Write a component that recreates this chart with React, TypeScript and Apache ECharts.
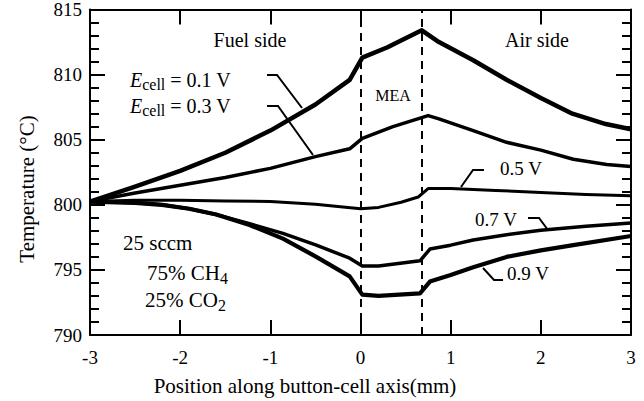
import React, { useEffect, useRef } from "react";
import * as echarts from "echarts";

// Position along axis (mm) and temperature (°C) for each cell voltage
const pos01 = [-3, -2.5, -2, -1.5, -1, -0.5, -0.12, 0.02, 0.3, 0.5, 0.68, 0.87, 1.25, 1.62, 2.0, 2.35, 2.72, 3];
const temp01 = [800.25, 801.4, 802.6, 804.0, 805.7, 807.7, 809.6, 811.3, 812.1, 812.8, 813.4, 812.5, 811.1, 809.6, 808.2, 807.0, 806.2, 805.8];

const pos03 = [-3, -2.5, -2, -1.5, -1, -0.5, -0.12, 0.02, 0.36, 0.75, 0.87, 1.25, 1.62, 2.0, 2.36, 2.73, 3];
const temp03 = [800.25, 800.9, 801.5, 802.1, 802.8, 803.7, 804.3, 805.1, 806.0, 806.85, 806.6, 805.7, 804.8, 804.2, 803.5, 803.1, 802.95];

const pos05 = [-3, -2.5, -2, -1.5, -1, -0.5, 0, 0.2, 0.45, 0.64, 0.75, 1.0, 1.5, 2.0, 2.5, 3];
const temp05 = [800.25, 800.35, 800.35, 800.3, 800.25, 800.05, 799.7, 799.8, 800.2, 800.6, 801.25, 801.25, 801.1, 800.95, 800.8, 800.7];

const pos07 = [-3, -2.5, -2.2, -1.9, -1.6, -1.23, -0.86, -0.49, -0.12, 0.02, 0.2, 0.66, 0.77, 1.0, 1.25, 1.62, 2.0, 2.5, 3];
const temp07 = [800.25, 800.15, 800.0, 799.7, 799.25, 798.55, 797.8, 796.9, 795.9, 795.3, 795.3, 795.7, 796.6, 796.9, 797.3, 797.7, 798.05, 798.35, 798.6];

const pos09 = [-3, -2.5, -2.2, -1.9, -1.6, -1.23, -0.86, -0.49, -0.12, 0.02, 0.2, 0.66, 0.77, 1.0, 1.25, 1.62, 2.0, 2.36, 3];
const temp09 = [800.25, 800.15, 800.0, 799.7, 799.25, 798.45, 797.4, 796.0, 794.5, 793.1, 793.0, 793.2, 794.1, 794.6, 795.2, 796.0, 796.5, 796.9, 797.6];

// MEA boundaries (mm)
const meaBounds = [0, 0.68];

const FONT = "'Liberation Serif', 'Times New Roman', serif";

const zip = (xs: number[], ys: number[]) => xs.map((x, i) => [x, ys[i]]);

export default function App() {
  const ref = useRef<HTMLDivElement>(null);
  useEffect(() => {
    if (!ref.current) return;
    const chart = echarts.init(ref.current, null, { renderer: "svg" });
    const axisLine = { show: true, onZero: false, lineStyle: { color: "#000", width: 2 } };
    const tick = { show: true, inside: true, length: 15, lineStyle: { color: "#000", width: 2 } };
    const minor = { show: true, splitNumber: 5, length: 9, lineStyle: { color: "#000", width: 2 } };
    const lineSeries = (name: string, xs: number[], ys: number[], width: number, extra: any = {}) => ({
      type: "line",
      name,
      data: zip(xs, ys),
      symbol: "none",
      smooth: false,
      lineStyle: { color: "#000", width, join: "round" },
      ...extra,
    });
    const subRich = (size: number, subSize: number, lh: number) => ({
      n: { fontSize: size, fontFamily: FONT, color: "#000", lineHeight: lh },
      e: { fontSize: size, fontFamily: FONT, fontStyle: "italic", color: "#000", lineHeight: lh },
      s: { fontSize: subSize, fontFamily: FONT, color: "#000", verticalAlign: "bottom", lineHeight: subSize },
    });
    const txt = (text: string, x: number, y: number, size: number, align = "left", rich?: any) => ({
      type: "text",
      x,
      y,
      silent: true,
      style: {
        text,
        fill: "#000",
        fontSize: size,
        fontFamily: FONT,
        align,
        verticalAlign: "middle",
        ...(rich ? { rich } : {}),
      },
    });
    const leader = (pts: number[][]) => ({
      type: "polyline",
      silent: true,
      shape: { points: pts },
      style: { stroke: "#000", lineWidth: 2, fill: "none" },
    });

    chart.setOption({
      animation: false,
      backgroundColor: "#fff",
      grid: { left: 90, right: 13, top: 9, bottom: 66, containLabel: false },
      xAxis: [
        {
          type: "value",
          min: -3,
          max: 3,
          interval: 1,
          position: "bottom",
          axisLine,
          axisTick: tick,
          splitLine: { show: false },
          axisLabel: { fontSize: 19, fontFamily: FONT, color: "#000", margin: 13 },
        },
        {
          type: "value",
          min: -3,
          max: 3,
          interval: 1,
          position: "top",
          axisLine,
          axisTick: tick,
          splitLine: { show: false },
          axisLabel: { show: false },
        },
      ],
      yAxis: [
        {
          type: "value",
          min: 790,
          max: 815,
          interval: 5,
          position: "left",
          axisLine,
          axisTick: tick,
          minorTick: minor,
          splitLine: { show: false },
          minorSplitLine: { show: false },
          axisLabel: { fontSize: 19, fontFamily: FONT, color: "#000", margin: 8 },
        },
        {
          type: "value",
          min: 790,
          max: 815,
          interval: 5,
          position: "right",
          axisLine,
          axisTick: tick,
          minorTick: minor,
          splitLine: { show: false },
          minorSplitLine: { show: false },
          axisLabel: { show: false },
        },
      ],
      series: [
        lineSeries("0.1 V", pos01, temp01, 4.5, {
          markLine: {
            silent: true,
            symbol: ["none", "none"],
            label: { show: false },
            lineStyle: { color: "#000", width: 2, type: [8, 6] },
            data: meaBounds.map((v) => ({ xAxis: v })),
          },
        }),
        lineSeries("0.3 V", pos03, temp03, 3.5),
        lineSeries("0.5 V", pos05, temp05, 3),
        lineSeries("0.7 V", pos07, temp07, 3.5),
        lineSeries("0.9 V", pos09, temp09, 4.2),
      ],
      graphic: [
        txt("Fuel side", 250, 40, 20, "center"),
        txt("Air side", 537, 40, 20, "center"),
        txt("MEA", 393, 95, 16, "center"),
        txt("{e|E}{s|cell}{n| = 0.1 V}", 130, 80, 20, "left", subRich(20, 16, 24)),
        txt("{e|E}{s|cell}{n| = 0.3 V}", 130, 106, 20, "left", subRich(20, 16, 24)),
        txt("0.5 V", 500, 168, 19),
        txt("0.7 V", 475, 219, 19),
        txt("0.9 V", 507, 273, 19),
        txt("25 sccm", 123, 243, 21),
        txt("{n|75% CH}{s|4}", 147, 273, 21, "left", subRich(21, 16, 27)),
        txt("{n|25% CO}{s|2}", 145, 300, 21, "left", subRich(21, 16, 27)),
        leader([[267, 75], [277, 75], [302, 108]]),
        leader([[267, 106], [278, 106], [313, 155]]),
        leader([[484, 170], [473, 170], [461, 187]]),
        leader([[528, 218], [539, 218], [548, 230]]),
        leader([[483, 268], [494, 280], [503, 280]]),
        {
          type: "text",
          x: 27,
          y: 189,
          rotation: Math.PI / 2,
          silent: true,
          style: {
            text: "Temperature (°C)",
            fill: "#000",
            fontSize: 21,
            fontFamily: FONT,
            align: "center",
            verticalAlign: "middle",
          },
        },
        txt("Position along button-cell axis(mm)", 305, 386, 21, "center"),
      ],
    });
    return () => chart.dispose();
  }, []);
  return (
    <div
      ref={ref}
      style={{ position: "fixed", left: 0, top: 0, width: 644, height: 401, background: "#fff" }}
    />
  );
}
